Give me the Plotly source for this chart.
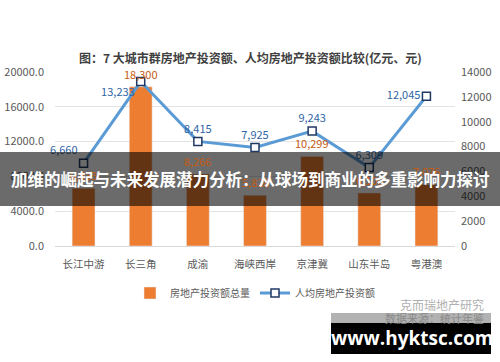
import plotly.graph_objects as go

categories = ["长江中游", "长三角", "成渝", "海峡西岸", "京津冀", "山东半岛", "粤港澳"]
invest_total = [6633, 18300, 8266, 5828, 10299, 6100, 7076]
invest_per_capita = [6660, 13233, 8415, 7925, 9243, 6309, 12045]
left_ticks = [0, 4000, 8000, 12000, 16000, 20000]
right_ticks = [0, 2000, 4000, 6000, 8000, 10000, 12000, 14000]

title_text = "图：7 大城市群房地产投资额、人均房地产投资额比较(亿元、元)"
banner_text = "加维的崛起与未来发展潜力分析：从球场到商业的多重影响力探讨"
FONT = "Noto Sans CJK SC, Noto Sans, sans-serif"

W, H = 500, 362
L, R, T, B = 55, 45, 72, 116
PW, PH = W - L - R, H - T - B

def px(x):
    return (x - L) / PW

def py(y):
    return (H - B - y) / PH

fig = go.Figure()
fig.add_trace(go.Bar(
    x=categories, y=invest_total, name="房地产投资额总量",
    marker_color="#ED7D31", width=0.4,
))
fig.add_trace(go.Scatter(
    x=categories, y=invest_per_capita, name="人均房地产投资额", yaxis="y2",
    mode="lines+markers+text",
    line=dict(color="#5B9BD5", width=3),
    marker=dict(symbol="square", size=8, color="white", line=dict(color="#1F3864", width=1.5)),
    text=[f"{v:,}" for v in invest_per_capita],
    textposition=["top left", "bottom left", "top center", "top center", "top center", "top center", "middle left"],
    textfont=dict(color="#2E64A6", size=11, family=FONT),
    cliponaxis=False,
))

for c, v in zip(categories, invest_total):
    fig.add_annotation(x=c, y=v, xref="x", yref="y", text=f"{v:,}", showarrow=False,
                       yanchor="middle", yshift=13,
                       font=dict(color="#C55A11", size=11, family=FONT))

fig.update_layout(
    width=W, height=H,
    margin=dict(l=L, r=R, t=T, b=B, autoexpand=False),
    paper_bgcolor="white", plot_bgcolor="white",
    font=dict(family=FONT, color="#595959", size=10),
    showlegend=True,
    legend=dict(orientation="h", x=0.5, xanchor="center", y=py(293), yanchor="middle",
                font=dict(size=10, color="#595959"), itemwidth=30,
                bgcolor="rgba(0,0,0,0)"),
    xaxis=dict(showgrid=False, showline=True, linecolor="#D9D9D9", ticks="",
               ticklabelstandoff=8, automargin=False,
               tickfont=dict(size=10.5, color="#595959")),
    yaxis=dict(range=[0, 20000], tickvals=left_ticks, tickformat=".1f",
               showgrid=True, gridcolor="#E3E3E3", zeroline=False,
               ticklabelstandoff=10, automargin=False,
               tickfont=dict(size=11, color="#595959")),
    yaxis2=dict(range=[0, 14000], tickvals=right_ticks, overlaying="y", side="right",
                showgrid=False, zeroline=False, tickformat="d",
                ticklabelstandoff=5, automargin=False,
                tickfont=dict(size=11, color="#595959")),
    bargap=0.6,
)

fig.add_annotation(text=f"<b>{title_text}</b>", xref="paper", yref="paper",
                   x=px(250), y=py(47), showarrow=False,
                   font=dict(size=12, color="#404040", family=FONT))
fig.add_annotation(text="克而瑞地产研究", xref="paper", yref="paper",
                   x=px(486), y=py(304), xanchor="right", yanchor="middle", showarrow=False,
                   font=dict(size=12, color="#B0B0B0", family=FONT))

shapes = [
    dict(type="rect", xref="paper", yref="paper", x0=px(0), x1=px(500), y0=py(206), y1=py(152),
         fillcolor="rgba(0,0,0,0.58)", line=dict(width=0), layer="above"),
    dict(type="rect", xref="paper", yref="paper", x0=px(331), x1=px(491), y0=py(323), y1=py(313),
         fillcolor="rgba(0,0,0,0.3)", line=dict(width=0), layer="above"),
    dict(type="rect", xref="paper", yref="paper", x0=px(331), x1=px(491), y0=py(354), y1=py(323),
         fillcolor="#000000", line=dict(width=0), layer="above"),
]
fig.update_layout(shapes=shapes)

fig.add_annotation(text="数据来源：统计年鉴", xref="paper", yref="paper",
                   x=px(486), y=py(318), xanchor="right", yanchor="middle", showarrow=False,
                   font=dict(size=11, color="#8A8A8A", family=FONT))
fig.add_annotation(text=f"<b>{banner_text}</b>", xref="paper", yref="paper",
                   x=px(250), y=py(179), yanchor="middle", showarrow=False,
                   font=dict(size=16.5, color="white", family=FONT))
fig.add_annotation(text="<b>www.hyktsc.com</b>", xref="paper", yref="paper",
                   x=px(412), y=py(338), xanchor="center", yanchor="middle", showarrow=False,
                   font=dict(size=19, color="white", family="Open Sans, DejaVu Sans, sans-serif"))

fig.write_html("out.html", config={"displayModeBar": False},
               post_script="document.body.style.margin='0';document.body.style.overflow='hidden';")
